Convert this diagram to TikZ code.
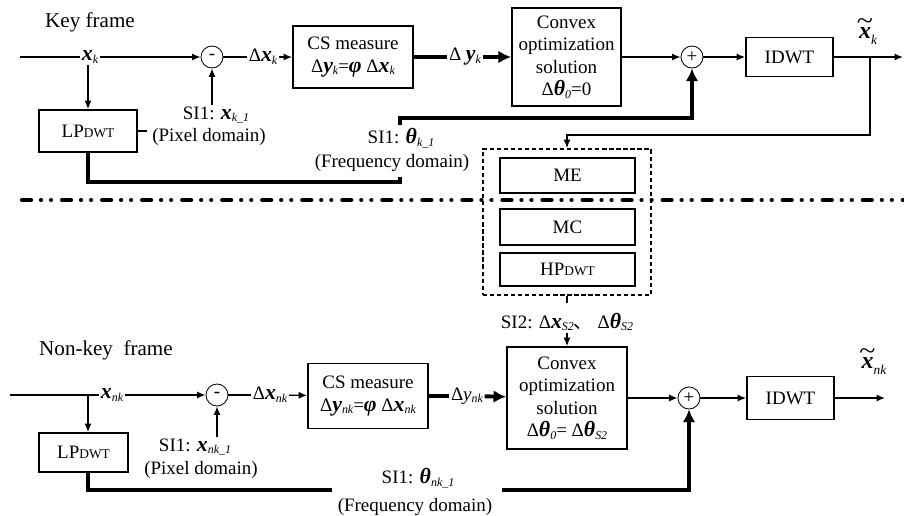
\documentclass[tikz,border=0pt]{standalone}
\usepackage{fontspec}
\setmainfont{Liberation Serif}
\newfontfamily\cjkfont{Noto Sans CJK SC}
\usetikzlibrary{arrows.meta,positioning}

\newcommand{\bv}[1]{{\fontsize{15.5}{16}\selectfont\bfseries\itshape #1}}
\newcommand{\lowsub}[1]{\raisebox{-0.3ex}{\fontsize{8.5}{8.5}\selectfont\itshape #1}}
\newcommand{\deepsub}[1]{\raisebox{-0.7ex}{\fontsize{9.5}{9.5}\selectfont\itshape #1}}
\newcommand{\dwt}{{\fontsize{9.5}{9.5}\selectfont DWT}}
\newcommand{\tilx}{{\fontsize{17}{17}\selectfont\bfseries\itshape x\llap{\mdseries\upshape\raisebox{0.8ex}{\scalebox{1.25}[1.1]{\textasciitilde}}\kern-0.08em}}}

\begin{document}
\begin{tikzpicture}[
    x=0.025cm, y=-0.025cm,
    font=\fontsize{13.5}{16}\selectfont,
    box/.style={draw, rectangle, line width=1.2pt, align=center, inner sep=2pt},
    sum/.style={draw, circle, line width=0.6pt, minimum size=0.55cm, inner sep=0pt},
    lbl/.style={inner sep=1pt},
    title/.style={inner sep=1pt, font=\fontsize{15}{18}\selectfont},
    wire/.style={line width=1pt},
    arrow/.style={-{Latex[length=6pt,width=5pt]}, line width=1pt},
    thickline/.style={line width=2.8pt},
    thickarrow/.style={-{Latex[length=9pt,width=9pt]}, line width=2.8pt},
    dashbox/.style={draw, dash pattern=on 3pt off 2pt, line width=1.2pt, minimum width=4.2cm, minimum height=3.65cm},
    divider/.style={line width=3pt, line cap=round, dash pattern=on 0.225cm off 0.25cm on 0.01pt off 0.25cm on 0.01pt off 0.275cm}
]
\useasboundingbox (0,0) rectangle (904,515);

% Key frame
\node[title] (keylbl) at (90,22) {Key frame};
\coordinate (in1) at (20,57);
\node[lbl] (xk) at (90,57) {\bv{x}\lowsub{k}};
\node[sum] (minus1) at (212,57) {-};
\node[lbl] (dxk) at (263,57) {Δ\bv{x}\lowsub{k}};
\node[box, minimum width=3cm, minimum height=1.55cm] (cs1) at (353,57) {CS measure\\Δ\bv{y}\lowsub{k}=\bv{φ} Δ\bv{x}\lowsub{k}};
\node[lbl] (dyk) at (465,57) {Δ \bv{y}\lowsub{k}};
\node[box, minimum width=2.725cm, minimum height=2.45cm] (conv1) at (566.5,57) {Convex\\optimization\\solution\\Δ\bv{θ}\lowsub{0}=0};
\node[sum] (plus1) at (692,57) {+};
\node[box, minimum width=2.175cm, minimum height=0.975cm] (idwt1) at (789.5,57) {IDWT};
\coordinate (fb1) at (870,57);
\coordinate (out1) at (903,57);
\node[lbl] (xt1) at (868,32) {\tilx\deepsub{k}};
\node[box, minimum width=2.45cm, minimum height=1.05cm] (lp1) at (88,131) {LP\dwt};
\node[lbl] (si1a) at (216,115) {SI1: \bv{x}\lowsub{k\_1}};
\node[lbl] (pix1) at (209,137) {(Pixel domain)};
\node[lbl] (si1b) at (401,138) {SI1: \bv{θ}\lowsub{k\_1}};
\node[lbl] (freq1) at (392,163) {(Frequency domain)};
\coordinate (gapa) at (400,118);
\coordinate (gapb) at (400,182);

% motion estimation / compensation
\node[dashbox] (sibox) at (567,222) {};
\node[box, minimum width=3.375cm, minimum height=0.875cm] (me) at (567.5,175.5) {ME};
\node[box, minimum width=3.375cm, minimum height=0.9cm] (mc) at (567.5,227) {MC};
\node[box, minimum width=3.375cm, minimum height=0.825cm] (hp) at (567.5,269.5) {HP\dwt};
\node[lbl] (si2) at (567,322) {SI2: Δ\bv{x}\lowsub{S2}{\cjkfont 、} Δ\bv{θ}\lowsub{S2}};

\draw[divider] (22,200) -- (904,200);

% Non-key frame
\node[title] (nklbl) at (106,350) {Non-key~ frame};
\coordinate (in2) at (10,395);
\coordinate (br2) at (88,395);
\node[lbl] (xnk) at (112,395) {\bv{x}\lowsub{nk}};
\node[sum] (minus2) at (217,395) {-};
\node[lbl] (dxnk) at (270,395) {Δ\bv{x}\lowsub{nk}};
\node[box, minimum width=3cm, minimum height=1.625cm] (cs2) at (368,396) {CS measure\\Δ\bv{y}\lowsub{nk}=\bv{φ} Δ\bv{x}\lowsub{nk}};
\node[lbl] (dynk) at (467,396) {Δ\textit{y}\lowsub{nk}};
\node[box, minimum width=3cm, minimum height=2.55cm] (conv2) at (567,398) {Convex\\optimization\\solution\\Δ\bv{θ}\lowsub{0}= Δ\bv{θ}\lowsub{S2}};
\node[sum] (plus2) at (689,398) {+};
\node[box, minimum width=2.175cm, minimum height=1.075cm] (idwt2) at (790.5,398) {IDWT};
\coordinate (out2) at (885,398);
\node[lbl] (xt2) at (874,362) {\tilx\deepsub{nk}};
\node[box, minimum width=2.225cm, minimum height=0.975cm] (lp2) at (83.5,452.5) {LP\dwt};
\node[lbl] (si1c) at (195,447) {SI1: \bv{x}\lowsub{nk\_1}};
\node[lbl] (pix2) at (201,470) {(Pixel domain)};
\node[lbl] (si1d) at (418,478) {SI1: \bv{θ}\lowsub{nk\_1}};
\node[lbl] (freq2) at (415,507) {(Frequency domain)};
\coordinate (gapc) at (332,490);
\coordinate (gapd) at (502,490);

% key frame connections
\draw[wire] (in1) -- (xk);
\draw[arrow] (xk) -- (minus1);
\draw[wire] (minus1) -- (dxk);
\draw[arrow] (dxk) -- (cs1);
\draw[thickline] (cs1) -- (dyk);
\draw[thickarrow] (dyk) -- (conv1);
\draw[arrow] (conv1) -- (plus1);
\draw[arrow] (plus1) -- (idwt1);
\draw[arrow] (idwt1) -- (out1);
\draw[arrow] (fb1) -- ++(0,78) -| (sibox.north);
\draw[arrow] (xk.south -| lp1.north) -- (lp1.north);
\draw[arrow] (minus1.south |- si1a.north) -- (minus1.south);
\draw[wire] (lp1.east) -- ++(9,0);
\draw[thickline] (lp1.south) |- (gapb) -- ++(0,-5);
\draw[thickarrow] ([yshift=-0.175cm]gapa) -- (gapa) -| (plus1.south);

% side information
\draw[wire] (sibox.south) -- ++(0,7);
\draw[arrow] (si2.south) -- (conv2.north);

% non-key frame connections
\draw[wire] (in2) -- (xnk);
\draw[arrow] (xnk) -- (minus2);
\draw[arrow] (br2) -- (br2 |- lp2.north);
\draw[wire] (minus2) -- (dxnk);
\draw[arrow] (dxnk) -- (cs2);
\draw[thickline] (cs2) -- (dynk);
\draw[thickarrow] (dynk) -- (conv2);
\draw[arrow] (conv2) -- (plus2);
\draw[arrow] (plus2) -- (idwt2);
\draw[arrow] (idwt2) -- (out2);
\draw[arrow] (minus2.south |- si1c.north) -- (minus2.south);
\draw[thickline] (br2 |- lp2.south) |- (gapc);
\draw[thickarrow] (gapd) -| (plus2.south);

\end{tikzpicture}
\end{document}
